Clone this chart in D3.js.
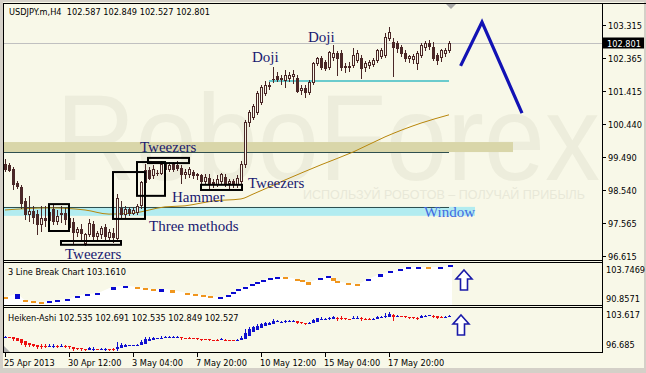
<!DOCTYPE html>
<html><head><meta charset="utf-8">
<script src="https://cdn.jsdelivr.net/npm/d3@7"></script>
<style>
html,body{margin:0;padding:0;background:#d4d0c8;overflow:hidden;}
svg{display:block;}
</style></head><body>
<svg id="c" width="646" height="373"></svg>
<script>
// ---------------- DATA ----------------
const titleText = "USDJPY.m,H4  102.587 102.849 102.527 102.801";
const opens = [99.29,99.24,99.15,98.74,98.62,98.22,97.84,97.92,97.84,97.55,
97.72,97.66,97.98,97.63,97.84,97.87,97.72,97.60,97.31,97.40,
96.99,97.25,97.55,97.20,97.25,97.46,97.17,97.28,97.14,98.01,
97.84,97.98,97.87,97.90,98.10,98.77,99.12,98.95,99.03,99.03,
99.29,99.15,99.29,99.26,99.18,99.00,98.98,99.06,98.95,98.95,
98.80,98.89,98.77,98.71,98.80,98.92,98.74,98.80,98.71,98.80,
99.29,100.49,100.64,100.78,101.07,101.33,101.57,101.74,101.83,101.74,
101.71,101.77,101.83,101.77,101.42,101.48,101.36,101.66,102.21,102.35,
102.24,102.09,102.38,102.50,102.50,102.09,102.12,102.15,102.30,102.35,
102.09,102.15,102.18,102.30,102.41,102.44,102.94,102.82,102.79,102.67,
102.50,102.35,102.32,102.21,102.44,102.67,102.79,102.67,102.44,102.38,
102.50,102.587];
const highs = [99.44,99.32,99.20,98.80,98.68,98.30,98.36,98.07,97.95,98.07,
98.07,98.10,98.10,97.95,98.07,98.01,97.80,97.72,97.46,97.55,
97.28,97.69,97.63,97.34,97.49,97.55,97.40,97.43,98.40,98.22,
98.07,98.04,98.04,98.13,98.80,99.29,99.20,99.24,99.12,99.38,
99.35,99.35,99.35,99.38,99.24,99.15,99.20,99.12,99.03,99.00,
98.98,98.98,98.86,98.95,99.03,99.00,98.86,98.86,98.95,99.38,
100.55,100.84,101.01,101.39,101.57,101.68,101.66,102.09,101.95,101.86,
102.00,101.95,102.00,101.86,101.57,101.57,101.71,102.24,102.38,102.41,
102.30,102.56,102.73,102.56,102.59,102.21,102.24,102.65,102.59,102.44,
102.27,102.30,102.35,102.62,102.65,103.08,103.26,102.94,102.85,102.73,
102.59,102.44,102.47,102.56,102.79,102.85,102.88,102.82,102.50,102.62,
102.65,102.849];
const lows = [99.09,99.09,98.57,98.60,98.01,97.69,97.63,97.58,97.25,97.34,
97.49,97.60,97.55,97.55,97.60,97.55,97.40,96.96,97.20,97.05,
96.93,97.20,97.05,97.11,97.14,97.08,97.05,97.02,97.05,97.72,
97.75,97.80,97.84,97.84,98.01,98.70,98.86,98.89,98.95,98.98,
99.12,99.09,99.09,99.12,98.74,98.89,98.92,98.89,98.86,98.68,
98.74,98.60,98.62,98.65,98.74,98.65,98.60,98.62,98.62,98.74,
99.20,100.40,100.58,100.72,101.01,101.28,101.45,101.66,101.68,101.60,
101.51,101.68,101.63,101.36,101.30,101.22,101.30,101.60,102.15,102.03,
102.00,102.03,102.30,101.86,102.00,101.95,101.98,102.09,102.24,101.77,
101.98,102.06,102.12,102.24,102.35,102.38,102.88,101.83,102.53,102.41,
102.27,102.24,102.21,102.03,102.38,102.59,102.62,102.30,102.18,102.27,
102.41,102.527];
const closes = [99.15,99.12,98.71,98.65,98.16,97.84,97.92,97.75,97.55,97.72,
97.66,97.90,97.63,97.78,97.87,97.69,97.46,97.31,97.40,97.28,
97.25,97.58,97.20,97.28,97.43,97.20,97.31,97.17,98.30,97.84,
97.98,97.87,97.95,98.07,98.77,99.12,98.89,99.15,99.03,99.29,
99.15,99.26,99.15,99.18,99.00,99.06,99.15,98.95,99.00,98.80,
98.92,98.74,98.71,98.86,98.98,98.74,98.80,98.74,98.89,99.29,
100.49,100.78,100.96,101.33,101.51,101.57,101.54,101.75,101.74,101.77,
101.86,101.86,101.88,101.39,101.48,101.36,101.66,102.21,102.35,102.09,
102.06,102.53,102.50,102.35,102.09,102.12,102.09,102.44,102.50,102.06,
102.21,102.24,102.30,102.59,102.59,102.97,103.11,102.67,102.65,102.50,
102.35,102.41,102.41,102.50,102.73,102.79,102.70,102.35,102.30,102.59,
102.59,102.801];

const priceTicks = [103.315,102.365,101.415,100.440,99.490,98.540,97.565,96.615];
const lastPrice = 102.801;
const timeTickIdx = [0,16,32,48,64,80,96];
const timeLabels = ["25 Apr 2013","30 Apr 12:00","3 May 04:00","7 May 20:00","10 May 12:00","15 May 04:00","17 May 20:00"];

// moving average
const maIdx = [0,11,20,26,32,40,45,49,52,59,62,70,79,87,95,104,111];
const maVal = [97.95,98.01,97.95,97.83,97.86,98.04,98.07,98.15,98.21,98.27,98.41,98.82,99.26,99.63,100.07,100.47,100.71];

// forecast zigzag (bar index, price)
const zigIdx = [113.9,119.25,129.25];
const zigVal = [102.13,103.40,100.76];

// levels
const tweezersBand = [99.63,99.92];
const windowBand = [97.78,98.04];
const dojiLevel = 101.69;

// pattern boxes: [fromIdx, toIdx, lowPrice, highPrice]
const boxes = [[11,16,97.34,98.12],[14,29,96.94,97.05],[27,35,97.69,99.05],[33,40,98.36,99.34],[35.75,46,99.31,99.46],[49,59.25,98.53,98.68]];
// labels: [text, idx, price, colour]
const notes = [["Doji",61.75,102.24,"#191970"],["Doji",75.75,102.82,"#191970"],["Tweezers",33.75,99.63,"#191970"],
 ["Tweezers",60.75,98.59,"#191970"],["Tweezers",15,96.53,"#191970"],["Hammer",41.75,98.18,"#191970"],
 ["Three methods",36,97.34,"#191970"],["Window",104.75,97.75,"#4169e1"]];

// 3 Line Break bricks
const lbIdx = [0,3,5,7,9,11,13,15.5,18,20.5,23,27,30,33,35,37,39,41.75,45.5,47.5,49.5,51.25,53.75,55.75,57,58.25,60,61.75,63,64.5,66.25,68,70,73,74.25,75.75,78.75,80.75,82,83,85.75,88,90.75,93.75,96.25,98.75,100.75,103.25,105.75,108.75,111.25];
const lbTop = [93.11,94.08,92.15,91.82,91.50,91.82,92.15,92.47,93.44,94.08,94.40,96.33,96.66,96.33,96.01,95.69,95.69,95.37,94.40,94.08,93.76,93.44,93.11,93.76,94.72,95.69,96.33,97.30,97.95,98.59,99.24,99.56,99.56,98.91,98.59,97.95,99.24,99.88,99.24,98.27,97.62,97.30,98.91,100.52,101.49,102.13,102.78,102.78,102.78,102.78,103.42];
const lbBot = [92.47,92.47,91.82,91.50,91.18,91.50,91.82,92.15,92.79,93.76,94.08,95.37,96.33,96.01,95.69,95.37,94.72,94.40,94.08,93.76,93.44,93.11,92.79,93.44,94.08,95.37,96.01,96.98,97.62,98.27,98.91,99.24,99.24,98.59,98.27,96.98,98.91,99.56,98.27,97.95,97.30,96.98,98.59,99.56,101.17,101.81,102.46,102.46,102.46,102.46,103.10];
const lbDir = [-1,1,-1,-1,-1,1,1,1,1,1,1,1,1,-1,-1,-1,1,-1,-1,-1,-1,-1,1,1,1,1,1,1,1,1,1,1,-1,-1,-1,-1,1,1,-1,-1,-1,-1,1,1,1,1,1,1,-1,1,1];

// ---------------- DRAW ----------------
const W=646,H=373,BG="#f8f8e8",CAN="#4a2727",FR="#000";
const svg=d3.select("#c");
svg.append("rect").attr("width",W).attr("height",H).attr("fill","#d4d0c8");
svg.append("rect").attr("x",3).attr("y",2).attr("width",641).attr("height",366).attr("fill",BG);

const x=d3.scaleLinear().domain([0,111]).range([5,449]);
const y=d3.scaleLinear().domain([96.615,103.315]).range([256,25]);
const yLB=d3.scaleLinear().domain([90.8571,103.7469]).range([304,264]);
const yHA=d3.scaleLinear().domain([96.685,103.617]).range([353,310]);

const defs=svg.append("defs");
defs.append("clipPath").attr("id","cm").append("rect").attr("x",4).attr("y",4).attr("width",598).attr("height",256);
defs.append("clipPath").attr("id","cl").append("rect").attr("x",4).attr("y",263).attr("width",598).attr("height",42);
defs.append("clipPath").attr("id","ch").append("rect").attr("x",4).attr("y",308).attr("width",598).attr("height",44);

const SANS='"DejaVu Sans", Verdana, sans-serif';
const SERIF='"Liberation Serif", "Times New Roman", serif';

// main panel
const main=svg.append("g").attr("clip-path","url(#cm)");
// watermark
main.append("text").text("RoboForex").attr("x",56).attr("y",180).attr("font-family",'"Liberation Sans", Arial, sans-serif')
 .attr("font-size",122).attr("fill","#ededdc").attr("textLength",544).attr("lengthAdjust","spacingAndGlyphs");
main.append("text").text("ИСПОЛЬЗУЙ РОБОТОВ – ПОЛУЧАЙ ПРИБЫЛЬ").attr("x",303).attr("y",199).attr("font-family",'"Liberation Sans", Arial, sans-serif')
 .attr("font-size",13).attr("fill","#e8e8d8").attr("textLength",282).attr("lengthAdjust","spacingAndGlyphs");

// bands
main.append("rect").attr("x",4).attr("width",x(127)-4).attr("y",y(tweezersBand[1])).attr("height",y(tweezersBand[0])-y(tweezersBand[1])).attr("fill","#d9d6a9");
main.append("rect").attr("x",4).attr("width",x(117.5)-4).attr("y",y(windowBand[1])).attr("height",y(windowBand[0])-y(windowBand[1])).attr("fill","#b2ecf0");
main.append("line").attr("x1",4).attr("x2",x(111)).attr("y1",Math.round(y(tweezersBand[0]))+0.5).attr("y2",Math.round(y(tweezersBand[0]))+0.5).attr("stroke","#2f4f4f");
main.append("line").attr("x1",4).attr("x2",x(111)).attr("y1",Math.round(y(windowBand[1]))+0.5).attr("y2",Math.round(y(windowBand[1]))+0.5).attr("stroke","#2f4f4f");
// current price line
const ly=Math.round(y(lastPrice))+0.5;
main.append("line").attr("x1",4).attr("x2",602).attr("y1",ly).attr("y2",ly).attr("stroke","#c0c0c0");
// doji level
main.append("line").attr("x1",x(66)).attr("x2",x(111)).attr("y1",y(dojiLevel)).attr("y2",y(dojiLevel)).attr("stroke","#3cbcc4").attr("stroke-width",1.5);

// MA
main.append("path").datum(maIdx.map((v,k)=>[v,maVal[k]])).attr("fill","none").attr("stroke","#b8860b").attr("stroke-width",1)
 .attr("d",d3.line().x(d=>x(d[0])).y(d=>y(d[1])).curve(d3.curveMonotoneX));

// candles
const bars=opens.map((o,i)=>({i,o,h:highs[i],l:lows[i],c:closes[i]}));
const cg=main.append("g");
bars.forEach(d=>{
  const cx=Math.round(x(d.i));
  cg.append("rect").attr("x",cx).attr("width",1).attr("y",Math.round(y(d.h))).attr("height",Math.max(1,Math.round(y(d.l))-Math.round(y(d.h))+1)).attr("fill",CAN);
  const top=Math.round(y(Math.max(d.o,d.c))), bot=Math.round(y(Math.min(d.o,d.c)));
  if(d.c>d.o && bot-top>=2){
    cg.append("rect").attr("x",cx-0.5).attr("y",top+0.5).attr("width",2).attr("height",bot-top).attr("fill",BG).attr("stroke",CAN).attr("stroke-width",1);
  } else {
    cg.append("rect").attr("x",cx-1).attr("y",top).attr("width",3).attr("height",Math.max(1,bot-top+1)).attr("fill",CAN);
  }
});

// boxes
boxes.forEach(b=>{
  main.append("rect").attr("x",x(b[0])).attr("y",y(b[3])).attr("width",x(b[1])-x(b[0])).attr("height",y(b[2])-y(b[3]))
   .attr("fill","none").attr("stroke","#000").attr("stroke-width",2);
});
// notes
notes.forEach(n=>{
  main.append("text").text(n[0]).attr("x",x(n[1])).attr("y",y(n[2])).attr("font-family",SERIF).attr("font-size",15).attr("fill",n[3]);
});
// zigzag
main.append("path").datum(zigIdx.map((v,k)=>[v,zigVal[k]])).attr("fill","none").attr("stroke","#1212b4").attr("stroke-width",3.2)
 .attr("stroke-linejoin","miter").attr("d",d3.line().x(d=>x(d[0])).y(d=>y(d[1])));
// shift marker
svg.append("path").attr("d","M446,4 L456,4 L451,9 Z").attr("fill","#a8a8a8");

// title
svg.append("text").text(titleText).attr("x",9).attr("y",15).attr("font-family",SANS).attr("font-size",8.2).attr("fill","#000").attr("xml:space","preserve").style("white-space","pre");

// right axis
priceTicks.forEach(v=>{
  const ty=Math.round(y(v))+0.5;
  svg.append("line").attr("x1",602).attr("x2",606).attr("y1",ty).attr("y2",ty).attr("stroke","#000");
  svg.append("text").text(v.toFixed(3)).attr("x",608).attr("y",ty+3).attr("font-family",SANS).attr("font-size",8.2).attr("fill","#000");
});
svg.append("rect").attr("x",603).attr("y",ly-6).attr("width",41).attr("height",11).attr("fill","#000");
svg.append("text").text(lastPrice.toFixed(3)).attr("x",607).attr("y",ly+3).attr("font-family",SANS).attr("font-size",8.2).attr("fill","#fff");

// ---- 3 Line Break panel
const lb=svg.append("g").attr("clip-path","url(#cl)");
const lbPts=[[-0.3,lbTop[0]]].concat(lbIdx.map((v,k)=>[v,lbTop[k]])).concat([[111.75,lbTop[lbTop.length-1]]]);
lb.append("path").datum(lbPts).attr("fill","#ffffff")
 .attr("d",d3.area().x(d=>x(d[0])).y0(306).y1(d=>yLB(d[1])).curve(d3.curveMonotoneX));
lbIdx.forEach((v,k)=>{
  const t=yLB(lbTop[k]), b=yLB(lbBot[k]);
  lb.append("rect").attr("x",Math.round(x(v))-2).attr("width",5).attr("y",Math.round(t)).attr("height",Math.max(2,Math.round(b-t)))
   .attr("fill",lbDir[k]>0?"#0a0ad0":"#f0961e");
});
svg.append("text").text("3 Line Break Chart 103.1610").attr("x",8).attr("y",275).attr("font-family",SANS).attr("font-size",8.2).attr("fill","#000");
svg.append("text").text("103.7469").attr("x",606).attr("y",273).attr("font-family",SANS).attr("font-size",8.2).attr("fill","#000");
svg.append("text").text("90.8571").attr("x",606).attr("y",302).attr("font-family",SANS).attr("font-size",8.2).attr("fill","#000");

// ---- Heiken-Ashi panel
const ha=[];
bars.forEach((d,i)=>{
  const c=(d.o+d.h+d.l+d.c)/4;
  const o=i?(ha[i-1].o+ha[i-1].c)/2:(d.o+d.c)/2;
  ha.push({i,o,c,h:Math.max(d.h,o,c),l:Math.min(d.l,o,c)});
});
const hg=svg.append("g").attr("clip-path","url(#ch)");
ha.forEach(d=>{
  const col=d.c>=d.o?"#1010d0":"#ee1010";
  const cx=Math.round(x(d.i));
  const top=Math.round(yHA(d.h)), bot=Math.round(yHA(d.l));
  hg.append("rect").attr("x",cx).attr("width",1).attr("y",top).attr("height",Math.max(1,bot-top)).attr("fill",col);
  const bt=Math.round(yHA(Math.max(d.o,d.c))), bb=Math.round(yHA(Math.min(d.o,d.c)));
  hg.append("rect").attr("x",cx-1).attr("width",3).attr("y",bt).attr("height",Math.max(1,bb-bt)).attr("fill",col);
});
svg.append("path").attr("d","M4,346 L4,352 L10,352 Z").attr("fill","#b0b0b0");
svg.append("text").text("Heiken-Ashi 102.535 102.691 102.535 102.849 102.527").attr("x",8).attr("y",321).attr("font-family",SANS).attr("font-size",8.2).attr("fill","#000");
svg.append("text").text("103.617").attr("x",606).attr("y",318).attr("font-family",SANS).attr("font-size",8.2).attr("fill","#000");
svg.append("text").text("96.685").attr("x",606).attr("y",348).attr("font-family",SANS).attr("font-size",8.2).attr("fill","#000");

// arrows in lower panels
function upArrow(cx,ty){
  const p=`M${cx},${ty} L${cx+8},${ty+9} L${cx+3.5},${ty+9} L${cx+3.5},${ty+20} L${cx-3.5},${ty+20} L${cx-3.5},${ty+9} L${cx-8},${ty+9} Z`;
  svg.append("path").attr("d",p).attr("fill","#ffffff").attr("stroke","#1a1aa8").attr("stroke-width",1.6);
}
upArrow(x(114.75),270);
upArrow(x(114),315);

// frames
const fr=svg.append("g").attr("stroke",FR).attr("stroke-width",1).attr("fill","none");
fr.append("line").attr("x1",3).attr("x2",646).attr("y1",3.5).attr("y2",3.5);
fr.append("line").attr("x1",3.5).attr("x2",3.5).attr("y1",3).attr("y2",353);
fr.append("line").attr("x1",602.5).attr("x2",602.5).attr("y1",3).attr("y2",353);
[260.5,262.5,305.5,307.5,352.5].forEach(v=>fr.append("line").attr("x1",3).attr("x2",603).attr("y1",v).attr("y2",v));

// x axis
timeTickIdx.forEach((t,k)=>{
  const tx=Math.round(x(t))+0.5;
  svg.append("line").attr("x1",tx).attr("x2",tx).attr("y1",353).attr("y2",357).attr("stroke","#000");
  svg.append("text").text(timeLabels[k]).attr("x",tx-1.5).attr("y",366).attr("font-family",SANS).attr("font-size",8.2).attr("fill","#000");
});
</script>
</body></html>
